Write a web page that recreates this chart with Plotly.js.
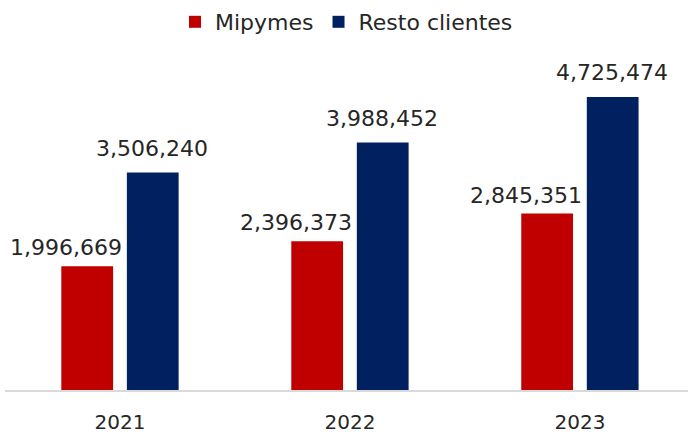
<!DOCTYPE html>
<html>
<head>
<meta charset="utf-8">
<script src="https://cdn.plot.ly/plotly-3.0.1.min.js"></script>
<style>
  body { margin: 0; background: #fff; }
  #chart { width: 688px; height: 435px; }
</style>
</head>
<body>
<div id="chart"></div>
<script>
const years = ['2021', '2022', '2023'];
const mipymes = [1996669, 2396373, 2845351];
const resto = [3506240, 3988452, 4725474];

const RED = '#C00000';
const NAVY = '#002060';
const TXT = '#262626';
const FONT = 'DejaVu Sans, sans-serif';

const fmt = v => v.toLocaleString('en-US');

const barTrace = (name, y, color) => ({
  type: 'bar',
  name: name,
  x: years,
  y: y,
  marker: {color: color},
  hoverinfo: 'skip'
});

// value labels over each bar; x is the category index, shifted onto its bar
// (the red ones sit a bit to the left, like in the original)
const labels = (y, xshift, yshift) => y.map((v, i) => ({
  x: i, y: v, xref: 'x', yref: 'y',
  text: fmt(v), showarrow: false,
  xanchor: 'center', yanchor: 'bottom',
  xshift: xshift, yshift: yshift,
  font: {family: FONT, size: 22, color: TXT}
}));

const data = [
  barTrace('Mipymes', mipymes, RED),
  barTrace('Resto clientes', resto, NAVY)
];

const annots = labels(mipymes, -54, 4).concat(labels(resto, 32, 10));

const layout = {
  width: 688,
  height: 435,
  margin: {l: 5, r: 0, t: 60, b: 45},
  paper_bgcolor: '#fff',
  plot_bgcolor: '#fff',
  barmode: 'group',
  bargap: 0.43,
  bargroupgap: 0.21,
  font: {family: FONT, size: 20, color: TXT},
  showlegend: true,
  legend: {
    orientation: 'h',
    x: 0.5, xanchor: 'center',
    y: 1 - 22 / 435, yref: 'container', yanchor: 'middle',
    font: {family: FONT, size: 22, color: TXT},
    itemwidth: 30
  },
  xaxis: {
    type: 'category',
    range: [-0.5, 2.47],
    showline: true,
    linecolor: '#D9D9D9',
    linewidth: 1.5,
    showgrid: false,
    ticks: 'outside',
    ticklen: 13,
    tickcolor: 'rgba(0,0,0,0)',
    tickfont: {family: FONT, size: 20, color: TXT}
  },
  yaxis: {
    range: [0, 5320000],
    showticklabels: false,
    showline: false,
    showgrid: false,
    zeroline: false,
    ticks: ''
  },
  annotations: annots
};

Plotly.newPlot('chart', data, layout, {displayModeBar: false});
</script>
</body>
</html>
